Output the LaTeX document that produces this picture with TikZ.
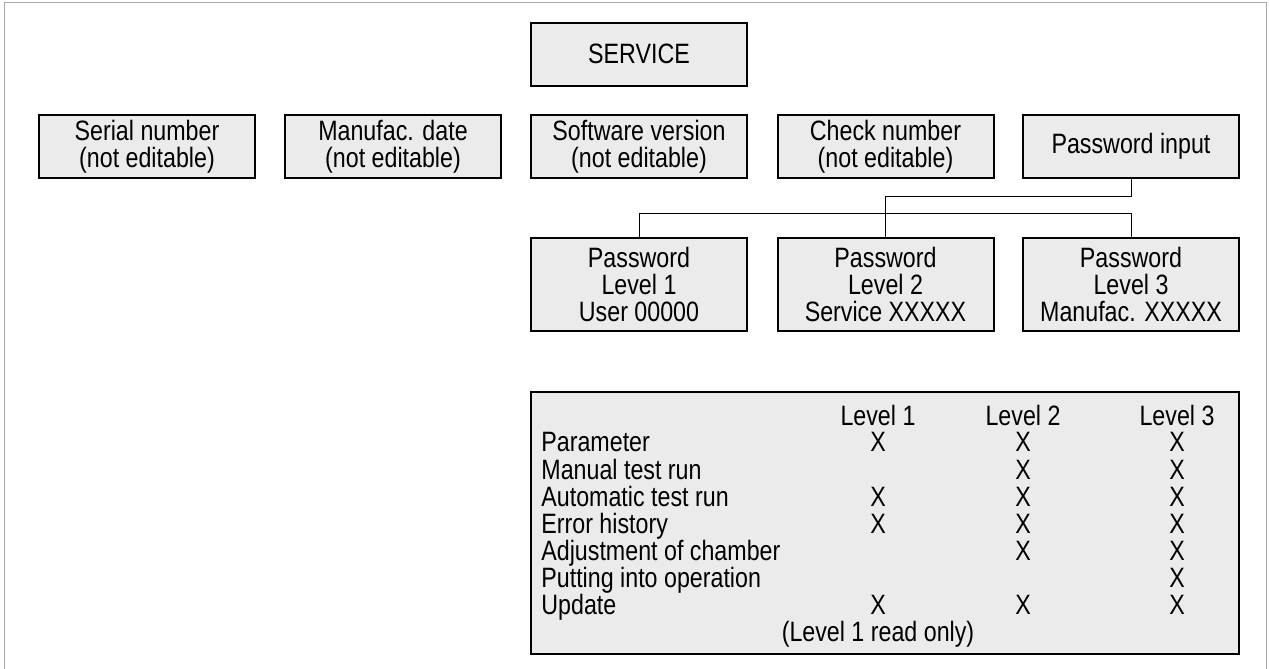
\documentclass[tikz,border=0pt]{standalone}
\usepackage{fontspec}
\setmainfont{Liberation Sans}[FakeStretch=0.83]
\usepackage{tikz}

\definecolor{boxgray}{RGB}{235,235,235}
\definecolor{framegray}{RGB}{170,170,170}

\tikzset{
  menubox/.style={draw, line width=1pt, fill=boxgray, align=center, inner sep=0pt,
    minimum width=108pt, minimum height=31.5pt,
    font=\fontsize{14pt}{13.5pt}\selectfont},
  pwbox/.style={menubox, minimum height=46.5pt},
  link/.style={line width=0.5pt},
  cell/.style={inner sep=0pt, font=\fontsize{14pt}{13.5pt}\selectfont}
}

\begin{document}
\begin{tikzpicture}[x=0.5pt, y=-0.5pt]
    \useasboundingbox (0,0) rectangle (1270,669);
    % outer frame
    \draw[framegray, line width=0.5pt] (4.5,669) -- (4.5,2) -- (1266,2) -- (1266,669);

    % menu
    \node[menubox] (service) at (639,54) {SERVICE};
    \node[menubox] (serial) at (147,146.5) {Serial number\\(not editable)};
    \node[menubox] (date) at (393,146.5) {Manufac. date\\(not editable)};
    \node[menubox] (soft) at (639,146.5) {Software version\\(not editable)};
    \node[menubox] (check) at (885.5,146.5) {Check number\\(not editable)};
    \node[menubox] (pwin) at (1131,146.5) {Password input};

    % password levels
    \node[pwbox] (lvl1) at (639,284.5) {Password\\Level 1\\User 00000};
    \node[pwbox] (lvl2) at (885.5,284.5) {Password\\Level 2\\Service XXXXX};
    \node[pwbox] (lvl3) at (1131,284.5) {Password\\Level 3\\Manufac. XXXXX};

    \draw[link] (pwin.south) -- ++(0,17) -| (lvl2.north);
    \draw[link] (lvl1.north) -- ++(0,-24) -| (lvl3.north);

    % access table
    \node[draw, line width=1pt, fill=boxgray, minimum width=354pt, minimum height=131pt,
      inner sep=0pt] (table) at (885,523.3) {};
    \node[cell, anchor=base] (h1) at (878,425) {Level 1};
    \node[cell, anchor=base] (h2) at (1023,425) {Level 2};
    \node[cell, anchor=base] (h3) at (1177,425) {Level 3};

    \node[cell, anchor=base west] (r1) at (541,451.7) {Parameter};
    \node[cell, anchor=base west] (r2) at (541,479) {Manual test run};
    \node[cell, anchor=base west] (r3) at (541,506.5) {Automatic test run};
    \node[cell, anchor=base west] (r4) at (541,533.5) {Error history};
    \node[cell, anchor=base west] (r5) at (541,560.5) {Adjustment of chamber};
    \node[cell, anchor=base west] (r6) at (541,587.3) {Putting into operation};
    \node[cell, anchor=base west] (r7) at (541,614.3) {Update};

    \node[cell, anchor=base] (x11) at (878,451.7) {X};
    \node[cell, anchor=base] (x12) at (1023,451.7) {X};
    \node[cell, anchor=base] (x13) at (1177,451.7) {X};
    \node[cell, anchor=base] (x22) at (1023,479) {X};
    \node[cell, anchor=base] (x23) at (1177,479) {X};
    \node[cell, anchor=base] (x31) at (878,506.5) {X};
    \node[cell, anchor=base] (x32) at (1023,506.5) {X};
    \node[cell, anchor=base] (x33) at (1177,506.5) {X};
    \node[cell, anchor=base] (x41) at (878,533.5) {X};
    \node[cell, anchor=base] (x42) at (1023,533.5) {X};
    \node[cell, anchor=base] (x43) at (1177,533.5) {X};
    \node[cell, anchor=base] (x52) at (1023,560.5) {X};
    \node[cell, anchor=base] (x53) at (1177,560.5) {X};
    \node[cell, anchor=base] (x63) at (1177,587.3) {X};
    \node[cell, anchor=base] (x71) at (878,614.3) {X};
    \node[cell, anchor=base] (x72) at (1023,614.3) {X};
    \node[cell, anchor=base] (x73) at (1177,614.3) {X};

    \node[cell, anchor=base] (note) at (878,641.7) {(Level 1 read only)};
\end{tikzpicture}
\end{document}
